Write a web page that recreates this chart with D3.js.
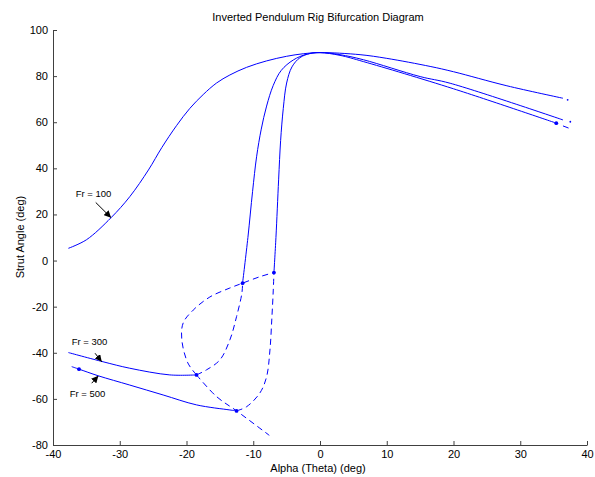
<!doctype html>
<html lang="en">
<head>
    <meta charset="UTF-8">
    <title>Inverted Pendulum Rig Bifurcation Diagram</title>
    <style>
        body { margin: 0; background: #fff; }
        #chart { display: block; font-family: "Liberation Sans", Arial, sans-serif; }
        #chart .branch { fill: none; stroke: #0000ff; stroke-width: 1; }
        #chart .dashed { stroke-dasharray: 6, 4; }
        #chart .axis path, #chart .axis line { stroke: #404040; }
        #chart .axis text { font-size: 11px; fill: #000; font-family: "Liberation Sans", Arial, sans-serif; }
    </style>
</head>
<body>
<svg id="chart" width="595" height="477"></svg>

<script src="https://cdn.jsdelivr.net/npm/d3@7"></script>
<script>
    // axis ticks
    var xTicks = [-40, -30, -20, -10, 0, 10, 20, 30, 40]
    var yTicks = [-80, -60, -40, -20, 0, 20, 40, 60, 80, 100]

    // stable branches [alpha, strut angle]
    var fr100 = [[-37.7, 5.3], [-35, 9], [-31.3, 18.6], [-28.5, 27.7], [-25.7, 39.3],
        [-23.7, 49], [-21.5, 58.5], [-19.5, 66], [-17.5, 72], [-15.5, 77], [-13.5, 80.5],
        [-11, 83.8], [-8, 86.6], [-5, 88.6], [-2.5, 89.7], [0, 90.2], [6, 89.3], [10, 87.7],
        [16.5, 84.2], [20, 81.9], [28, 75.8], [36.4, 70.4]]
    var fr300Low = [[-37.7, -39.9], [-32.5, -43.9], [-28.5, -46.7], [-22.5, -49.6], [-18.5, -49.6]]
    var fr500Low = [[-37.2, -46], [-36.1, -47.1], [-33.2, -50], [-28.5, -54], [-23.5, -58.3],
        [-18.5, -62.6], [-13.5, -64.8], [-12.5, -65.2]]
    var fr300High = [[-11.6, -9.8], [-10.8, 10], [-10.1, 30], [-9.5, 45], [-8.8, 57], [-8, 67],
        [-7, 76], [-5.8, 82.5], [-4, 87], [-2, 89.5], [0, 90.2], [3, 89.3], [6.5, 87.1],
        [15, 79.8], [19.5, 76.9], [36.4, 61]]
    var fr500High = [[-6.9, -5.2], [-6.6, 10], [-6.2, 35], [-5.9, 52], [-5.5, 66], [-5, 77],
        [-4.2, 84], [-3, 88], [-1.5, 89.8], [0, 90.2], [3, 89], [6.5, 86.3], [20, 74.5],
        [35.4, 59.6]]

    // unstable branches
    var loopLeft = [[-18.5, -49.6], [-19.8, -44.4], [-20.7, -34.4], [-20.5, -27.1], [-19, -21.5],
        [-16.5, -15.8], [-13.5, -11.9], [-11.6, -9.8], [-9, -7], [-6.9, -5.2]]
    var loopRight = [[-18.5, -49.6], [-17, -47.4], [-15, -43.1], [-13.5, -34.4], [-12.5, -24.3],
        [-11.7, -14.1], [-11.6, -9.8]]
    var riseRight = [[-12.5, -65.2], [-11, -63.4], [-9, -57.4], [-8, -50.4], [-7.5, -38.8],
        [-7.2, -24.3], [-7, -12.8], [-6.9, -5.2]]
    var diagonal = [[-18.5, -49.6], [-15.5, -59], [-12.5, -65.2], [-7.6, -75.8]]
    var tail500 = [[36.4, 58.4], [37.3, 57.4]]

    // bifurcation points and end points
    var bigDots = [[-18.5, -49.6], [-11.6, -9.8], [-6.9, -5.2], [-12.5, -65.2], [-36.1, -47.1], [35.4, 59.6]]
    var smallDots = [[37.1, 69.7], [37.5, 60.2]]

    // labels: text, label anchor, arrow start, arrow tip
    var labels = ['Fr = 100', 'Fr = 300', 'Fr = 500']
    var labelAt = [[-36.6, 29.2], [-37.2, -35.2], [-37.5, -57.9]]
    var arrowFrom = [[-33.6, 25.2], [-33.7, -40.2], [-34.2, -53.2]]
    var arrowTo = [[-31.3, 18.6], [-32.7, -43.9], [-33.2, -50]]

    var svg = d3.select('#chart')

    var xScale = d3.scaleLinear().domain([-40, 40]).range([53, 587])
    var yScale = d3.scaleLinear().domain([-80, 100]).range([445, 30])

    var line = d3.line()
        .x(function(d) { return xScale(d[0]) })
        .y(function(d) { return yScale(d[1]) })
        .curve(d3.curveCatmullRom.alpha(0.5))

    svg.append('g')
        .attr('class', 'axis')
        .attr('transform', 'translate(0,' + yScale(-80) + ')')
        .call(d3.axisBottom(xScale).tickValues(xTicks).tickSizeInner(-4).tickSizeOuter(0)
            .tickPadding(5).tickFormat(function(d) { return String(d) }))

    svg.append('g')
        .attr('class', 'axis')
        .attr('transform', 'translate(' + xScale(-40) + ',0)')
        .call(d3.axisLeft(yScale).tickValues(yTicks).tickSizeInner(-4).tickSizeOuter(0)
            .tickPadding(5).tickFormat(function(d) { return String(d) }))

    var solid = [fr100, fr300Low, fr500Low, fr300High, fr500High]
    var dashed = [loopLeft, loopRight, riseRight, diagonal, tail500]

    svg.selectAll('path.solid').data(solid).enter()
        .append('path')
        .attr('class', 'branch solid')
        .attr('d', line)

    svg.selectAll('path.dashed').data(dashed).enter()
        .append('path')
        .attr('class', 'branch dashed')
        .attr('d', line)

    svg.selectAll('circle.big').data(bigDots).enter()
        .append('circle')
        .attr('class', 'big')
        .attr('cx', function(d) { return xScale(d[0]) })
        .attr('cy', function(d) { return yScale(d[1]) })
        .attr('r', 1.9)
        .attr('fill', '#0000ff')

    svg.selectAll('circle.small').data(smallDots).enter()
        .append('circle')
        .attr('class', 'small')
        .attr('cx', function(d) { return xScale(d[0]) })
        .attr('cy', function(d) { return yScale(d[1]) })
        .attr('r', 0.9)
        .attr('fill', '#0000ff')

    svg.append('defs').append('marker')
        .attr('id', 'head')
        .attr('viewBox', '0 0 10 10')
        .attr('refX', 10).attr('refY', 5)
        .attr('markerWidth', 7).attr('markerHeight', 7)
        .attr('markerUnits', 'userSpaceOnUse')
        .attr('orient', 'auto')
        .append('path')
        .attr('d', 'M0,0L10,5L0,10Z')
        .attr('fill', '#000')

    labels.forEach(function(t, i) {
        svg.append('text')
            .attr('x', xScale(labelAt[i][0]))
            .attr('y', yScale(labelAt[i][1]))
            .attr('dy', '0.35em')
            .attr('font-size', '9.5px')
            .text(t)
        svg.append('line')
            .attr('x1', xScale(arrowFrom[i][0])).attr('y1', yScale(arrowFrom[i][1]))
            .attr('x2', xScale(arrowTo[i][0])).attr('y2', yScale(arrowTo[i][1]))
            .attr('stroke', '#000')
            .attr('stroke-width', 1)
            .attr('marker-end', 'url(#head)')
    })

    svg.append('text')
        .attr('x', 318).attr('y', 21)
        .attr('text-anchor', 'middle')
        .attr('font-size', '11px')
        .text('Inverted Pendulum Rig Bifurcation Diagram')

    svg.append('text')
        .attr('x', 318).attr('y', 472)
        .attr('text-anchor', 'middle')
        .attr('font-size', '11px')
        .text('Alpha (Theta) (deg)')

    svg.append('text')
        .attr('transform', 'translate(24,237) rotate(-90)')
        .attr('text-anchor', 'middle')
        .attr('font-size', '11px')
        .text('Strut Angle (deg)')
</script>
</body>
</html>
